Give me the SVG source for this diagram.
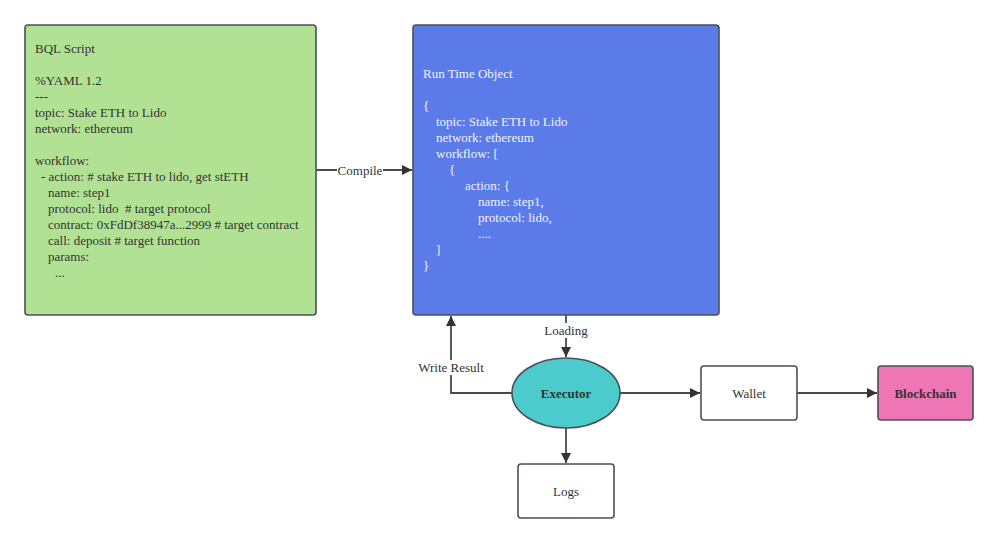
<svg xmlns="http://www.w3.org/2000/svg" width="999" height="543" viewBox="0 0 999 543">
<style>
.n{stroke:#4b5058;stroke-width:1.6}
.t{font-family:"Liberation Serif","Times New Roman",serif;font-size:13px;fill:#333}
.w{fill:#f2f2f8}
.c{text-anchor:middle}
.b{font-weight:bold}
.e{fill:none;stroke:#4a4a4a;stroke-width:1.8}
.lb{fill:#fff}
</style>
<defs>
<marker id="a" viewBox="0 0 10 10" refX="10" refY="5" markerWidth="10" markerHeight="10" markerUnits="userSpaceOnUse" orient="auto">
<path d="M0,0 L10,5 L0,10 z" fill="#333"/>
</marker>
</defs>
<rect width="999" height="543" fill="#fff"/>
<g id="connectors">
<path class="e" d="M316,170 L412,170" marker-end="url(#a)"/>
<rect class="lb" x="337" y="163" width="46" height="15"/>
<text class="t c" x="360" y="175">Compile</text>
<path class="e" d="M566,315 L566,357" marker-end="url(#a)"/>
<rect class="lb" x="541" y="323" width="50" height="15"/>
<text class="t c" x="566" y="335">Loading</text>
<path class="e" d="M512,393 L451,393 L451,316" marker-end="url(#a)"/>
<rect class="lb" x="415" y="360" width="72" height="15"/>
<text class="t c" x="451" y="372">Write Result</text>
<path class="e" d="M566,428 L566,463" marker-end="url(#a)"/>
<path class="e" d="M620,393 L700,393" marker-end="url(#a)"/>
<path class="e" d="M797,393 L877,393" marker-end="url(#a)"/>
</g>
<g id="bql">
<rect class="n" x="25" y="25" width="291" height="290" rx="3" fill="#b1e293"/>
<text class="t" x="35" y="53">BQL Script</text>
<text class="t" x="35" y="85">%YAML 1.2</text>
<text class="t" x="35" y="101">---</text>
<text class="t" x="35" y="117">topic: Stake ETH to Lido</text>
<text class="t" x="35" y="133">network: ethereum</text>
<text class="t" x="35" y="165">workflow:</text>
<text class="t" x="41" y="181" xml:space="preserve">- action: # stake ETH to lido, get stETH</text>
<text class="t" x="48" y="197">name: step1</text>
<text class="t" x="48" y="213" xml:space="preserve">protocol: lido  # target protocol</text>
<text class="t" x="48" y="229">contract: 0xFdDf38947a...2999 # target contract</text>
<text class="t" x="48" y="245">call: deposit # target function</text>
<text class="t" x="48" y="261">params:</text>
<text class="t" x="55" y="277">...</text>
</g>
<g id="rto">
<rect class="n" x="413" y="25" width="306" height="290" rx="3" fill="#5b7be8"/>
<text class="t w" x="423" y="78">Run Time Object</text>
<text class="t w" x="423" y="110">{</text>
<text class="t w" x="436" y="126">topic: Stake ETH to Lido</text>
<text class="t w" x="436" y="142">network: ethereum</text>
<text class="t w" x="436" y="158">workflow: [</text>
<text class="t w" x="449" y="174">{</text>
<text class="t w" x="465" y="190">action: {</text>
<text class="t w" x="478" y="206">name: step1,</text>
<text class="t w" x="478" y="222">protocol: lido,</text>
<text class="t w" x="478" y="238">....</text>
<text class="t w" x="436" y="254">]</text>
<text class="t w" x="423" y="270">}</text>
</g>
<g id="executor">
<ellipse class="n" cx="566" cy="393" rx="54" ry="35" fill="#4ccbcd"/>
<text class="t c b" x="566" y="397.5">Executor</text>
</g>
<g id="logs">
<rect class="n" x="518" y="464" width="96" height="54" rx="3" fill="#fff"/>
<text class="t c" x="566" y="496">Logs</text>
</g>
<g id="wallet">
<rect class="n" x="701" y="366" width="96" height="54" rx="3" fill="#fff"/>
<text class="t c" x="749" y="397.5">Wallet</text>
</g>
<g id="blockchain">
<rect class="n" x="878" y="366" width="95" height="54" rx="3" fill="#ee76b4"/>
<text class="t c b" x="925.5" y="397.5">Blockchain</text>
</g>
</svg>
